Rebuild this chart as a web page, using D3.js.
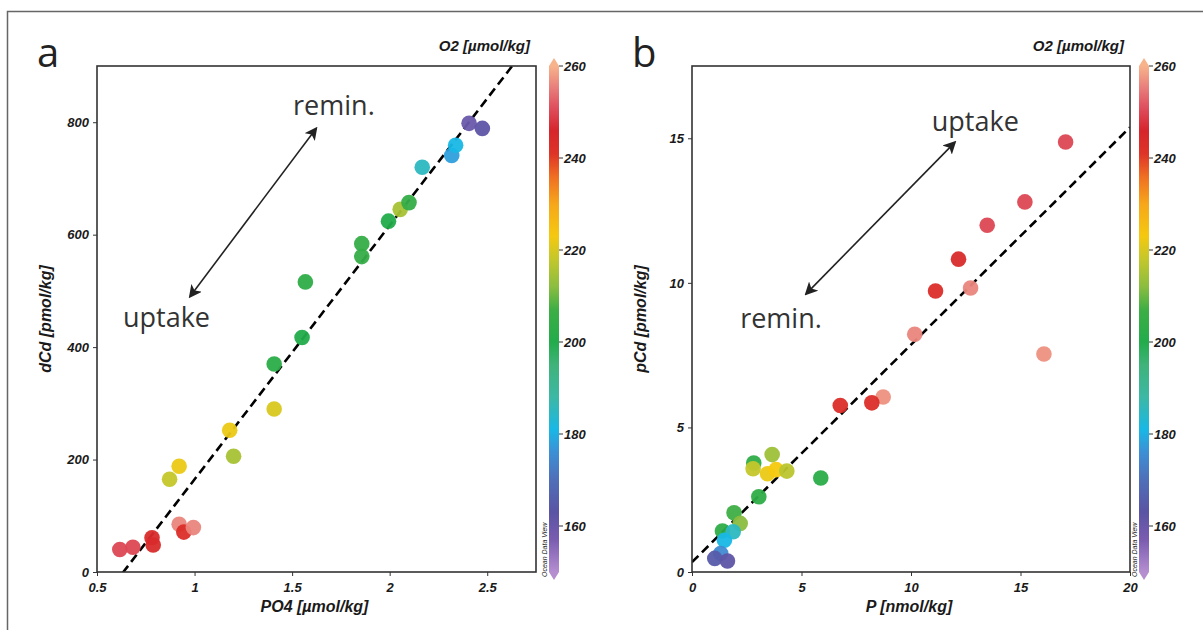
<!DOCTYPE html>
<html>
<head>
<meta charset="utf-8">
<script src="https://cdn.jsdelivr.net/npm/d3@7"></script>
<style>
  body { margin: 0; background: #fff; }
  svg { display: block; }
  .tick text, .cbar text, .ttl, .axlab { font-family: "Liberation Sans", Arial, sans-serif; font-weight: bold; font-style: italic; fill: #1a1a1a; }
  .note { font-family: "Open Sans", sans-serif; fill: #333; }
</style>
</head>
<body>
<div id="chart"></div>
<script>
// panel a: dissolved Cd vs PO4, coloured by O2
const po4  = [0.617, 0.684, 0.782, 0.788, 0.921, 0.945, 0.994, 0.872, 0.921, 1.18, 1.20, 1.408, 1.408, 1.551,
              1.568, 1.857, 1.857, 1.994, 2.054, 2.099, 2.167, 2.318, 2.338, 2.407, 2.475];
const dCd  = [40, 44, 61, 48, 85, 71, 79, 165, 188, 252, 206, 370, 290, 417,
              516, 584, 561, 624, 645, 657, 720, 741, 759, 798, 789];
const o2A  = [250, 250, 244, 244, 256, 243, 256, 218, 222, 222, 215, 202, 220, 200,
              203, 205, 205, 200, 215, 205, 185, 178, 181, 160, 162];

// panel b: particulate Cd vs particulate P
const pP   = [17.06, 15.2, 13.48, 12.17, 11.12, 12.72, 10.17, 16.07, 8.73, 8.21, 6.77, 5.88, 3.66, 2.82,
              2.79, 3.45, 3.84, 4.33, 3.05, 1.92, 2.20, 1.39, 1.88, 1.48, 1.31, 1.04, 1.62];
const pCd  = [14.87, 12.8, 11.99, 10.82, 9.72, 9.82, 8.22, 7.54, 6.05, 5.85, 5.76, 3.25, 4.06, 3.77,
              3.57, 3.40, 3.54, 3.49, 2.60, 2.05, 1.68, 1.42, 1.39, 1.10, 0.64, 0.47, 0.38];
const o2B  = [250, 250, 250, 244, 243, 256, 256, 257, 257, 243, 243, 202, 214, 203,
              218, 222, 223, 217, 203, 207, 212, 203, 185, 181, 175, 165, 162];

// fitted lines: y = slope * x + intercept
const fitA = {slope: 451.6, intercept: -286.8};
const fitB = {slope: 0.752, intercept: 0.34};

// axis ticks
const xTicksA = [0.5, 1, 1.5, 2, 2.5];
const yTicksA = [0, 200, 400, 600, 800];
const xTicksB = [0, 5, 10, 15, 20];
const yTicksB = [0, 5, 10, 15];
const cbarTicks = [160, 180, 200, 220, 240, 260];

// Ocean Data View style palette for O2
const o2Stops  = [150, 157, 163, 170, 176, 181, 188, 195, 200, 207, 212, 218, 223, 230, 236, 241, 246, 251, 255, 260];
const o2Colors = ["#b58ed0", "#7a5cb0", "#5a54a4", "#4f6fb8", "#3d8fd5", "#18b8e6", "#3cb8a5", "#3fb37a", "#22ac4b", "#3dae45",
                  "#8bbd40", "#c4c72a", "#f5c90f", "#f6a71a", "#ef6e22", "#de3327", "#d6252d", "#df4f5e", "#e77b7a", "#f7b38b"];

const W = 1203, H = 630;
const color = d3.scaleLinear().domain(o2Stops).range(o2Colors).clamp(true);

const svg = d3.select("#chart").append("svg")
    .attr("width", W)
    .attr("height", H);

// outer frame
svg.append("rect")
    .attr("x", 7.5).attr("y", 11.5)
    .attr("width", 1300).attr("height", 700)
    .attr("fill", "none")
    .attr("stroke", "#666")
    .attr("stroke-width", 1.5);

const defs = svg.append("defs");
const grad = defs.append("linearGradient")
    .attr("id", "o2grad")
    .attr("x1", 0).attr("y1", 1).attr("x2", 0).attr("y2", 0);
grad.selectAll("stop")
  .data(o2Stops)
  .enter().append("stop")
    .attr("offset", d => (d - 150) / 110)
    .attr("stop-color", (d, i) => o2Colors[i]);

function panel(opt) {
  const {id, left, right, top, bottom, xDomain, yDomain, xs, ys, cs, xt, yt, fit, letter, xLabel, yLabel, notes, arrow, cbarX} = opt;

  const x = d3.scaleLinear().domain(xDomain).range([left, right]);
  const y = d3.scaleLinear().domain(yDomain).range([bottom, top]);
  const g = svg.append("g");

  defs.append("clipPath").attr("id", "clip" + id)
    .append("rect")
      .attr("x", left).attr("y", top)
      .attr("width", right - left).attr("height", bottom - top);

  // axes
  const xAx = g.append("g")
      .attr("transform", `translate(0,${bottom})`)
      .call(d3.axisBottom(x).tickValues(xt).tickSize(4).tickSizeOuter(0).tickFormat(d3.format("")));
  const yAx = g.append("g")
      .attr("transform", `translate(${left},0)`)
      .call(d3.axisLeft(y).tickValues(yt).tickSize(4).tickSizeOuter(0).tickFormat(d3.format("")));
  [xAx, yAx].forEach(a => {
    a.select(".domain").remove();
    a.selectAll(".tick line").attr("stroke", "#333");
    a.selectAll(".tick text").style("font-size", "13px");
  });
  xAx.selectAll(".tick text").attr("dy", "1.0em");
  yAx.selectAll(".tick text").attr("x", -8);

  // fit line
  const [x0, x1] = xDomain;
  g.append("line")
      .attr("clip-path", `url(#clip${id})`)
      .attr("x1", x(x0)).attr("y1", y(fit.slope * x0 + fit.intercept))
      .attr("x2", x(x1)).attr("y2", y(fit.slope * x1 + fit.intercept))
      .attr("stroke", "#000")
      .attr("stroke-width", 2.6)
      .attr("stroke-dasharray", "9,5");

  // points
  g.append("g")
      .attr("clip-path", `url(#clip${id})`)
    .selectAll("circle")
    .data(xs.map((v, i) => ({x: v, y: ys[i], o2: cs[i]})))
    .enter().append("circle")
      .attr("cx", d => x(d.x))
      .attr("cy", d => y(d.y))
      .attr("r", 7.8)
      .attr("fill", d => color(d.o2))
      .attr("fill-opacity", 0.95);

  // box
  g.append("rect")
      .attr("x", left).attr("y", top)
      .attr("width", right - left).attr("height", bottom - top)
      .attr("fill", "none")
      .attr("stroke", "#333")
      .attr("stroke-width", 1.6);

  // double arrow
  const mk = "arrow" + id;
  defs.append("marker")
      .attr("id", mk)
      .attr("viewBox", "0 0 12 12")
      .attr("refX", 10).attr("refY", 6)
      .attr("markerWidth", 13).attr("markerHeight", 13)
      .attr("markerUnits", "userSpaceOnUse")
      .attr("orient", "auto-start-reverse")
    .append("path")
      .attr("d", "M0,0 L12,6 L0,12 L3,6 Z")
      .attr("fill", "#222");
  g.append("line")
      .attr("x1", x(arrow[0][0])).attr("y1", y(arrow[0][1]))
      .attr("x2", x(arrow[1][0])).attr("y2", y(arrow[1][1]))
      .attr("stroke", "#222")
      .attr("stroke-width", 1.6)
      .attr("marker-start", `url(#${mk})`)
      .attr("marker-end", `url(#${mk})`);

  notes.forEach(n => {
    g.append("text").attr("class", "note")
        .attr("x", x(n.x)).attr("y", y(n.y))
        .style("font-size", "27px")
        .text(n.t);
  });

  // labels
  g.append("text").attr("class", "note")
      .attr("x", left - 60).attr("y", top + 1)
      .style("font-size", "40px")
      .style("fill", "#222")
      .text(letter);
  g.append("text").attr("class", "axlab")
      .attr("x", (left + right) / 2 - 2).attr("y", bottom + 40)
      .attr("text-anchor", "middle")
      .style("font-size", "16px")
      .text(xLabel);
  g.append("text").attr("class", "axlab")
      .attr("transform", `translate(${left - 46},${(top + bottom) / 2}) rotate(-90)`)
      .attr("text-anchor", "middle")
      .style("font-size", "16px")
      .text(yLabel);
  g.append("text").attr("class", "ttl")
      .attr("x", right - 6).attr("y", top - 15)
      .attr("text-anchor", "end")
      .style("font-size", "15px")
      .text("O2 [µmol/kg]");

  // colour bar
  const cy = d3.scaleLinear().domain([150, 260]).range([bottom, top]);
  const cb = svg.append("g").attr("class", "cbar");
  const bw = 10;
  cb.append("rect")
      .attr("x", cbarX).attr("y", cy(260))
      .attr("width", bw).attr("height", cy(150) - cy(260))
      .attr("fill", "url(#o2grad)");
  cb.append("path")
      .attr("d", `M${cbarX},${cy(260)} L${cbarX + bw / 2},${cy(260) - 8} L${cbarX + bw},${cy(260)} Z`)
      .attr("fill", color(260));
  cb.append("path")
      .attr("d", `M${cbarX},${cy(150)} L${cbarX + bw / 2},${cy(150) + 8} L${cbarX + bw},${cy(150)} Z`)
      .attr("fill", color(150));
  cb.selectAll("line.ct")
    .data(cbarTicks)
    .enter().append("line")
      .attr("x1", cbarX + bw).attr("x2", cbarX + bw + 4)
      .attr("y1", d => cy(d)).attr("y2", d => cy(d))
      .attr("stroke", "#333");
  cb.selectAll("text.cl")
    .data(cbarTicks)
    .enter().append("text")
      .attr("x", cbarX + bw + 5)
      .attr("y", d => cy(d))
      .attr("dy", "0.35em")
      .style("font-size", "13px")
      .text(d => d);
  cb.append("text")
      .attr("transform", `translate(${cbarX - 2},${bottom + 5}) rotate(-90)`)
      .style("font-size", "7px")
      .style("font-weight", "normal")
      .text("Ocean Data View");
}

panel({
  id: "a", left: 97, right: 536, top: 66, bottom: 572,
  xDomain: [0.5, 2.75], yDomain: [0, 900],
  xs: po4, ys: dCd, cs: o2A, xt: xTicksA, yt: yTicksA, fit: fitA,
  letter: "a", xLabel: "PO4 [µmol/kg]", yLabel: "dCd [pmol/kg]",
  notes: [{t: "remin.", x: 1.505, y: 812}, {t: "uptake", x: 0.633, y: 436}],
  arrow: [[0.977, 490], [1.623, 789]],
  cbarX: 549
});

panel({
  id: "b", left: 692, right: 1130, top: 66, bottom: 572,
  xDomain: [0, 20], yDomain: [0, 17.5],
  xs: pP, ys: pCd, cs: o2B, xt: xTicksB, yt: yTicksB, fit: fitB,
  letter: "b", xLabel: "P [nmol/kg]", yLabel: "pCd [pmol/kg]",
  notes: [{t: "uptake", x: 10.95, y: 15.25}, {t: "remin.", x: 2.2, y: 8.45}],
  arrow: [[5.21, 9.62], [12.0, 14.86]],
  cbarX: 1139
});
</script>
</body>
</html>
